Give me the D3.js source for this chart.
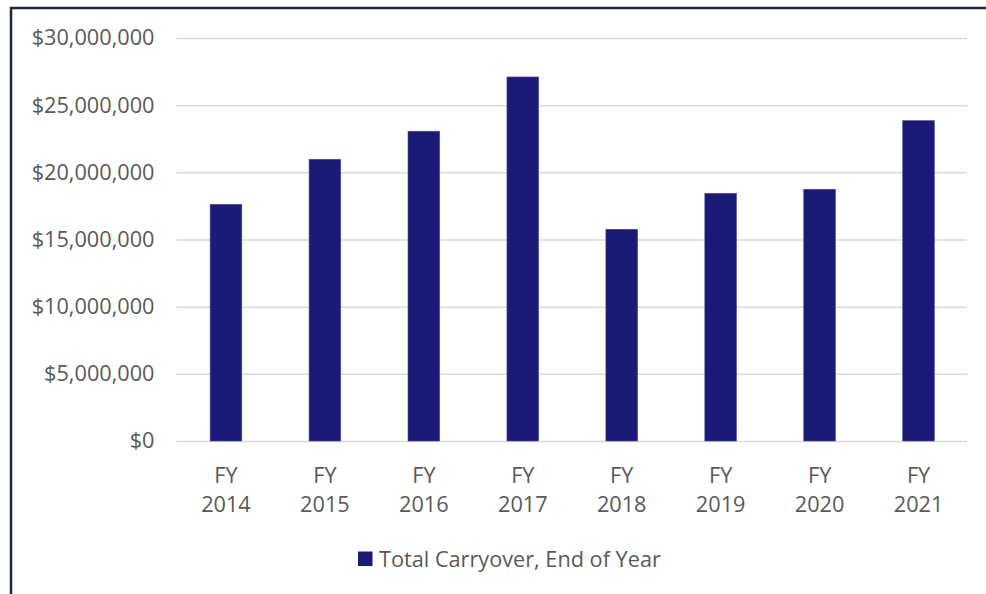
<!DOCTYPE html>
<html><head><meta charset="utf-8">
<script src="https://cdn.jsdelivr.net/npm/d3@7"></script>
<style>body{margin:0;background:#fff}svg{display:block}text{font-family:"Open Sans",sans-serif;fill:#595959}</style>
</head><body>
<script>
const categories = ["FY 2014","FY 2015","FY 2016","FY 2017","FY 2018","FY 2019","FY 2020","FY 2021"];
const values = [17620000,20970000,23060000,27100000,15760000,18440000,18740000,23850000];
const yTicks = [0,5000000,10000000,15000000,20000000,25000000,30000000];
const seriesName = "Total Carryover, End of Year";

const W=986,H=594;
const svg=d3.select("body").append("svg").attr("width",W).attr("height",H);
svg.append("line").attr("x1",10).attr("x2",W).attr("y1",8).attr("y2",8).attr("stroke","#1f2a36").attr("stroke-width",2.5);
svg.append("line").attr("x1",11).attr("x2",11).attr("y1",7).attr("y2",H).attr("stroke","#1f2a36").attr("stroke-width",2.5);

const x=d3.scaleBand().domain(categories).range([176.5,968]).paddingInner(0.68).paddingOuter(0.34);
const y=d3.scaleLinear().domain([0,30000000]).range([441,38]);
const fmt=d=>"$"+d3.format(",")(d);
const FS="21.7px";

const ya=svg.append("g").attr("transform","translate(176.5,0)")
  .call(d3.axisLeft(y).tickValues(yTicks).tickFormat(fmt).tickSize(-(967-176.5)).tickPadding(22));
ya.select(".domain").remove();
ya.selectAll("line").attr("stroke","#d9d9d9").attr("stroke-width",1.5);
ya.selectAll("text").style("font-size",FS).style("fill","#595959");

svg.selectAll("rect.bar").data(values).enter().append("rect").attr("class","bar")
  .attr("x",(d,i)=>x(categories[i])).attr("width",x.bandwidth())
  .attr("y",d=>y(d)).attr("height",d=>y(0)-y(d))
  .attr("fill","#1b1a77").attr("stroke","#4a4a98").attr("stroke-width",0.6);

const xa=svg.append("g").attr("transform","translate(0,441)")
  .call(d3.axisBottom(x).tickSize(0).tickFormat(""));
xa.select(".domain").remove();
xa.selectAll(".tick").each(function(d){
  const parts=d.split(" ");
  const t=d3.select(this).append("text").attr("text-anchor","middle").style("font-size",FS);
  t.append("tspan").attr("x",0).attr("y",41.5).text(parts[0]);
  t.append("tspan").attr("x",0).attr("y",70.5).text(parts[1]);
});

const lg=svg.append("g");
lg.append("rect").attr("x",358).attr("y",551.5).attr("width",14.5).attr("height",14.5).attr("fill","#1b1a77");
lg.append("text").attr("x",379).attr("y",566.5).style("font-size",FS).text(seriesName);
</script>
</body></html>
